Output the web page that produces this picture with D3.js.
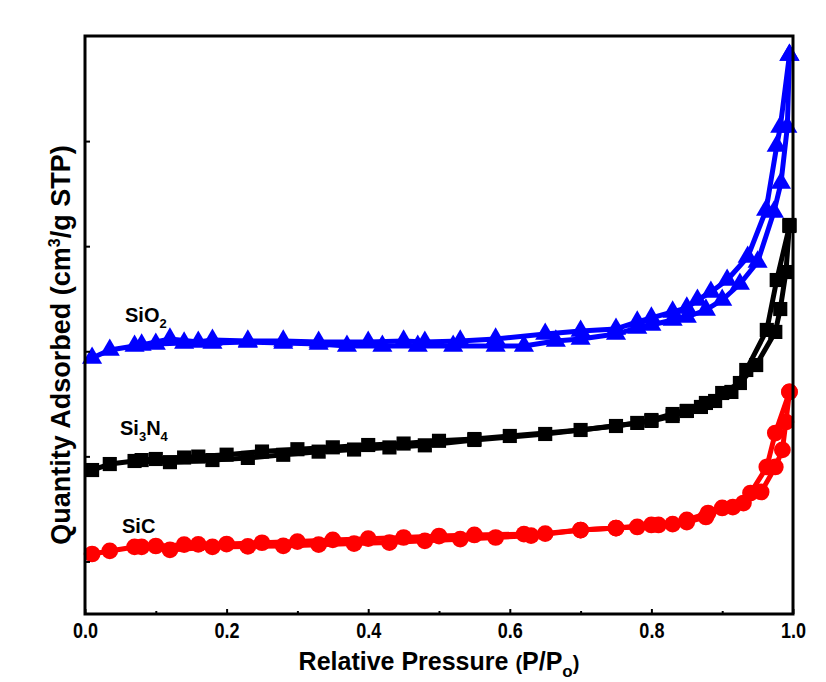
<!DOCTYPE html>
<html>
<head>
<meta charset="utf-8">
<script src="https://cdn.jsdelivr.net/npm/d3@7"></script>
<style>
  html, body { margin: 0; padding: 0; background: #fff; }
  svg { display: block; }
  text { font-family: "Liberation Sans", Arial, Helvetica, sans-serif; font-weight: bold; fill: #000; }
</style>
</head>
<body>
<svg id="chart" width="826" height="682"></svg>
<script>
// ---- data (Relative pressure P/Po, quantity adsorbed in arbitrary offset units) ----
const xTicks = [0.0, 0.2, 0.4, 0.6, 0.8, 1.0];
const xMinorTicks = [0.1, 0.3, 0.5, 0.7, 0.9];
const yTicks = [50, 150, 250, 350, 450];

const sio2AdsX = [0.01,0.035,0.07,0.10,0.14,0.18,0.23,0.28,0.33,0.37,0.42,0.47,0.52,0.58,0.62,0.665,0.70,0.75,0.78,0.80,0.83,0.85,0.877,0.90,0.925,0.95,0.973,0.983,0.992,0.995];
const sio2AdsY = [243.6,251.2,255.0,256.9,257.9,257.9,258.8,257.9,256.9,255.0,255.0,255.0,255.0,255.0,255.0,259.8,261.7,266.4,272.2,275.0,279.8,282.6,289.3,298.8,314.0,335.0,382.5,410.1,463.4,531.9];
const sio2DesX = [0.995,0.982,0.977,0.962,0.936,0.907,0.884,0.865,0.85,0.83,0.80,0.78,0.75,0.70,0.65,0.58,0.53,0.48,0.45,0.40,0.33,0.28,0.23,0.18,0.16,0.12,0.08];
const sio2DesY = [531.9,463.4,445.3,384.4,339.7,317.8,306.4,298.8,291.2,287.4,281.7,277.9,271.2,269.3,266.4,261.7,259.8,258.8,259.8,258.8,258.8,259.8,259.8,260.7,258.8,261.7,256.0];

const si3n4AdsX = [0.01,0.035,0.07,0.12,0.18,0.23,0.28,0.33,0.38,0.43,0.48,0.55,0.65,0.75,0.80,0.83,0.85,0.877,0.90,0.925,0.948,0.975,0.982,0.99,0.995];
const si3n4AdsY = [137.0,142.7,145.6,144.5,146.5,148.5,151.5,154.5,156.5,158.5,160.5,165.6,171.3,178.9,183.7,188.4,193.2,200.8,210.3,219.8,236.9,268.4,290.2,325.4,370.2];
const si3n4DesX = [0.995,0.977,0.963,0.934,0.913,0.89,0.87,0.85,0.83,0.80,0.78,0.70,0.60,0.55,0.50,0.45,0.40,0.35,0.30,0.25,0.20,0.16,0.14,0.10,0.08];
const si3n4DesY = [369.2,317.8,270.3,232.2,211.3,202.7,197.0,193.2,190.3,184.6,181.8,175.1,169.4,166.5,164.8,162.2,160.8,158.6,156.8,154.6,151.6,149.8,148.9,147.5,146.5];

const sicAdsX = [0.01,0.035,0.07,0.10,0.12,0.18,0.23,0.28,0.33,0.38,0.43,0.48,0.53,0.58,0.63,0.70,0.75,0.80,0.85,0.877,0.90,0.93,0.955,0.975,0.985,0.99,0.995];
const sicAdsY = [57.1,60.0,63.8,64.7,61.0,63.8,64.3,64.8,66.0,67.0,68.0,69.6,71.2,72.8,74.5,79.9,81.8,84.7,87.5,92.3,100.9,105.6,116.1,139.9,156.1,182.7,211.3];
const sicDesX = [0.995,0.975,0.963,0.94,0.915,0.88,0.85,0.83,0.81,0.78,0.75,0.70,0.65,0.62,0.55,0.50,0.45,0.40,0.35,0.30,0.25,0.20,0.16,0.14,0.08];
const sicDesY = [211.3,172.2,139.9,115.1,101.8,96.1,89.5,85.6,84.7,82.8,81.8,79.9,76.5,76.0,75.2,74.2,72.8,71.7,70.5,68.9,67.8,66.6,66.3,66.0,63.8];

const seriesNames = ["SiO2", "Si3N4", "SiC"];
const seriesColors = ["#0000ff", "#000000", "#ff0000"];

// ---- layout ----
const svg = d3.select("#chart");
const L = 85, R = 793, T = 36, B = 614;
const x = d3.scaleLinear().domain([0, 1]).range([L, R]);
const y = d3.scaleLinear().domain([0, 550]).range([B, T]);

const zip = (xs, ys) => xs.map((v, i) => [v, ys[i]]);
const series = [
  { name: seriesNames[0], color: seriesColors[0], shape: "tri", branches: [zip(sio2AdsX, sio2AdsY), zip(sio2DesX, sio2DesY)] },
  { name: seriesNames[1], color: seriesColors[1], shape: "sq", branches: [zip(si3n4AdsX, si3n4AdsY), zip(si3n4DesX, si3n4DesY)] },
  { name: seriesNames[2], color: seriesColors[2], shape: "circ", branches: [zip(sicAdsX, sicAdsY), zip(sicDesX, sicDesY)] }
];

const line = d3.line().x(d => x(d[0])).y(d => y(d[1]));
const symbolFor = {
  tri: d3.symbol().type(d3.symbolTriangle).size(175),
  sq: d3.symbol().type(d3.symbolSquare).size(200),
  circ: d3.symbol().type(d3.symbolCircle).size(220)
};

const plot = svg.append("g");
series.forEach(s => {
  const g = plot.append("g");
  s.branches.forEach(b => {
    g.append("path").datum(b).attr("d", line)
      .attr("fill", "none").attr("stroke", s.color).attr("stroke-width", 5)
      .attr("stroke-linejoin", "round");
  });
  s.branches.forEach(b => {
    g.selectAll(null).data(b).enter().append("path")
      .attr("d", symbolFor[s.shape]())
      .attr("transform", d => `translate(${x(d[0])},${y(d[1])})`)
      .attr("fill", s.color);
  });
});

// ---- axes ----
const xAxis = d3.axisBottom(x).tickValues(xTicks).tickSize(-5).tickPadding(8).tickFormat(d3.format(".1f"));
const gx = svg.append("g").attr("transform", `translate(0,${B})`).call(xAxis);
gx.select(".domain").remove();
gx.selectAll(".tick line").attr("stroke", "#000").attr("stroke-width", 2);
gx.selectAll(".tick text")
  .style("font-size", "22px").style("font-family", "'Liberation Sans', Arial, sans-serif").style("font-weight", "bold")
  .attr("dy", "0.71em").attr("transform", "scale(0.82,1)");

const xMinor = d3.axisBottom(x).tickValues(xMinorTicks).tickSize(-3).tickFormat("");
const gxm = svg.append("g").attr("transform", `translate(0,${B})`).call(xMinor);
gxm.select(".domain").remove();
gxm.selectAll(".tick line").attr("stroke", "#000").attr("stroke-width", 2);

const yAxis = d3.axisLeft(y).tickValues(yTicks).tickSize(-5).tickFormat("");
const gy = svg.append("g").attr("transform", `translate(${L},0)`).call(yAxis);
gy.select(".domain").remove();
gy.selectAll(".tick line").attr("stroke", "#000").attr("stroke-width", 2);

// frame
svg.append("rect").attr("x", L).attr("y", T).attr("width", R - L).attr("height", B - T)
  .attr("fill", "none").attr("stroke", "#000").attr("stroke-width", 3);

// ---- axis titles ----
const xt = svg.append("text").attr("x", (L + R) / 2).attr("y", 670).attr("text-anchor", "middle").attr("font-size", 25);
xt.append("tspan").text("Relative Pressure ");
xt.append("tspan").attr("font-size", 20).text("(");
xt.append("tspan").text("P/P");
xt.append("tspan").attr("font-size", 17).attr("dy", 7).text("o");
xt.append("tspan").attr("font-size", 20).attr("dy", -7).text(")");

const yt = svg.append("text").attr("transform", `translate(70,${(T + B) / 2 + 20}) rotate(-90)`)
  .attr("text-anchor", "middle").attr("font-size", 27);
yt.append("tspan").text("Quantity Adsorbed (cm");
yt.append("tspan").attr("font-size", 16).attr("dy", -10).text("3");
yt.append("tspan").attr("dy", 10).text("/g STP)");

// ---- series labels ----
function label(parts, lx, ly) {
  const t = svg.append("text").attr("x", lx).attr("y", ly).attr("font-size", 20);
  parts.forEach(p => {
    if (p.sub) t.append("tspan").attr("font-size", 13).attr("dy", 6).text(p.t);
    else t.append("tspan").attr("dy", p.after ? -6 : 0).text(p.t);
  });
}
label([{ t: "SiO" }, { t: "2", sub: true }], 125, 322);
label([{ t: "Si" }, { t: "3", sub: true }, { t: "N", after: true }, { t: "4", sub: true }], 120, 435);
label([{ t: "SiC" }], 122, 533);
</script>
</body>
</html>
